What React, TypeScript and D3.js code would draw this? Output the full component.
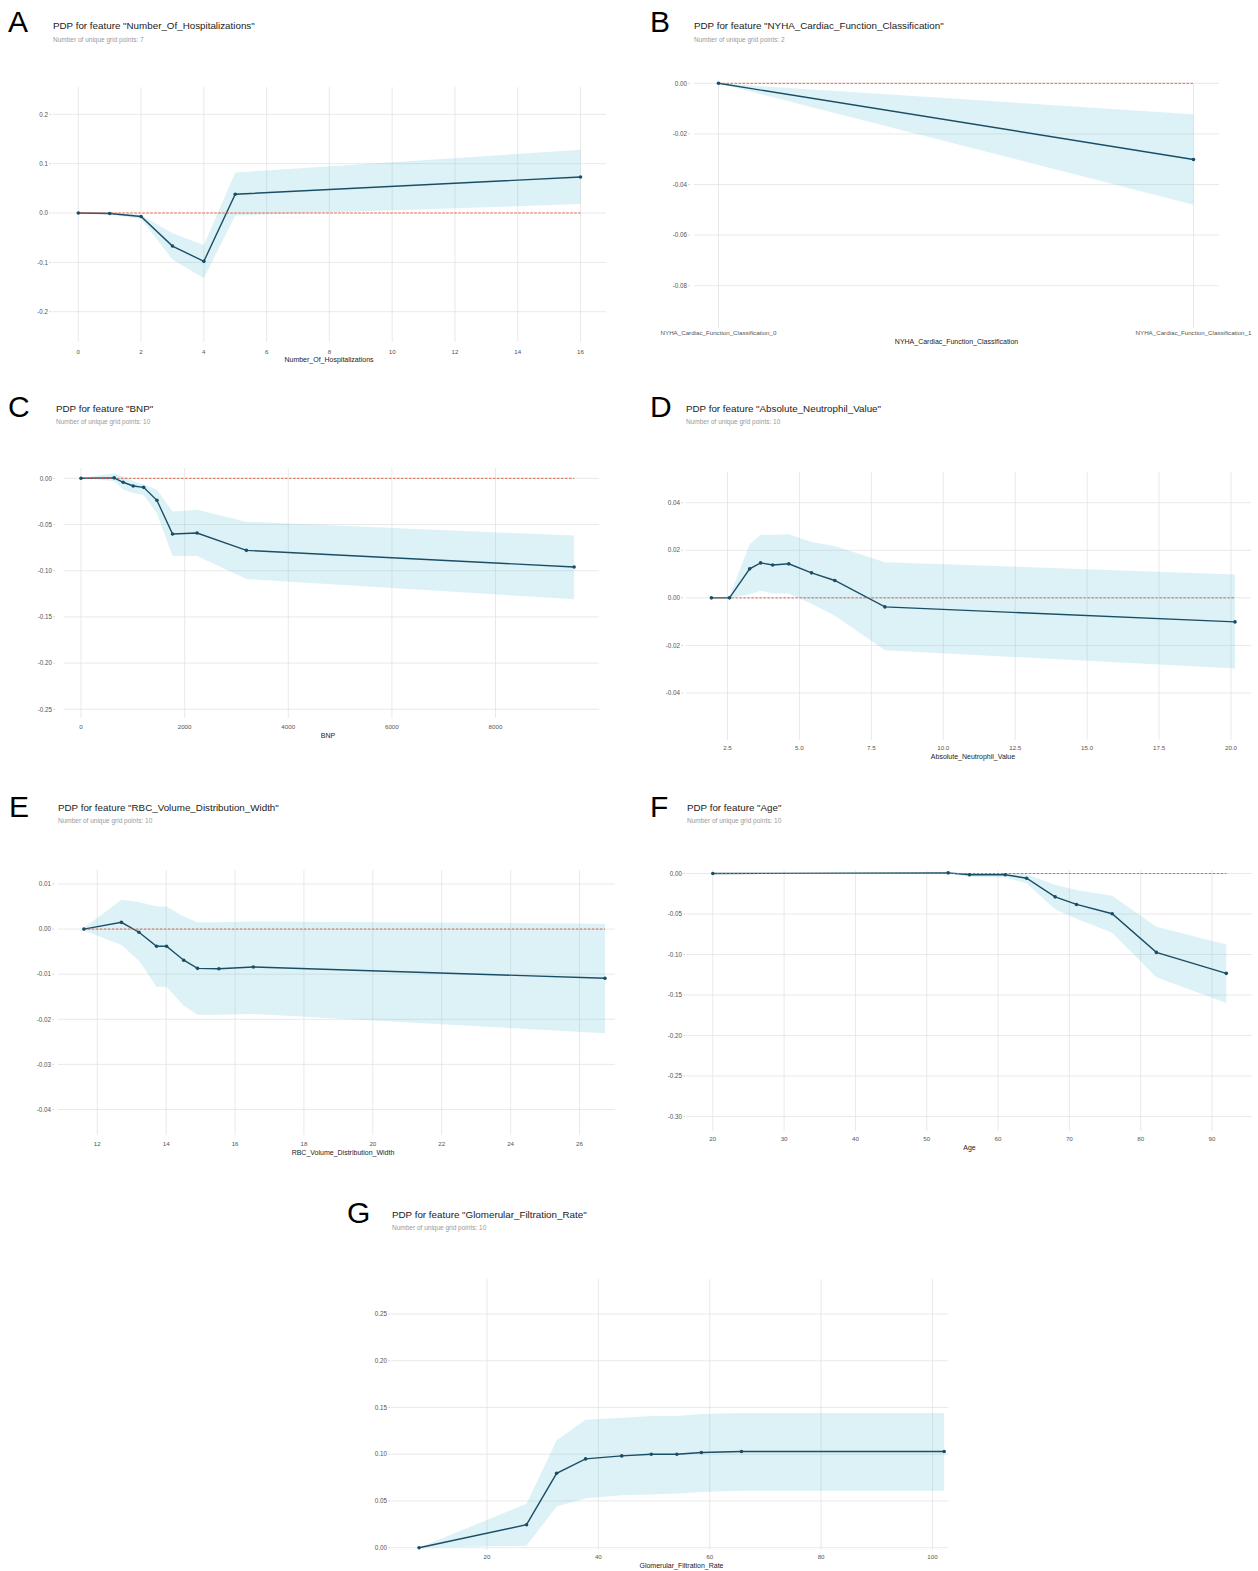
import React from 'react';
import * as d3 from 'd3';

// ---------------- Data ----------------
// A: Number_Of_Hospitalizations
const A_x = [0, 1, 2, 3, 4, 5, 16];
const A_pdp = [0, -0.001, -0.007, -0.067, -0.098, 0.038, 0.073];
const A_upper = [0, 0.001, -0.004, -0.041, -0.065, 0.082, 0.128];
const A_lower = [0, -0.003, -0.012, -0.094, -0.132, -0.005, 0.018];
const A_xTicks = [0, 2, 4, 6, 8, 10, 12, 14, 16];
const A_yTicks = [0.2, 0.1, 0.0, -0.1, -0.2];

// B: NYHA_Cardiac_Function_Classification
const B_x = [0, 1];
const B_pdp = [0, -0.0301];
const B_upper = [0, -0.0122];
const B_lower = [0, -0.048];
const B_cats = ['NYHA_Cardiac_Function_Classification_0', 'NYHA_Cardiac_Function_Classification_1'];
const B_yTicks = [0.0, -0.02, -0.04, -0.06, -0.08];

// C: BNP
const C_x = [0, 640, 814, 1008, 1209, 1465, 1767, 2240, 3193, 9517];
const C_pdp = [0, 0.0005, -0.0043, -0.0083, -0.0098, -0.0238, -0.0603, -0.0592, -0.078, -0.096];
const C_upper = [0, 0.0054, 0.002, -0.003, -0.007, -0.012, -0.036, -0.034, -0.047, -0.062];
const C_lower = [0, -0.003, -0.012, -0.016, -0.018, -0.038, -0.084, -0.084, -0.109, -0.131];
const C_xTicks = [0, 2000, 4000, 6000, 8000];
const C_yTicks = [0.0, -0.05, -0.1, -0.15, -0.2, -0.25];

// D: Absolute_Neutrophil_Value
const D_x = [1.94, 2.57, 3.27, 3.65, 4.07, 4.63, 5.42, 6.23, 7.97, 20.14];
const D_pdp = [0, 0, 0.0122, 0.0147, 0.0138, 0.0143, 0.0105, 0.0073, -0.0038, -0.0101];
const D_upper = [0, 0.0007, 0.0225, 0.0265, 0.0265, 0.0267, 0.0235, 0.0218, 0.015, 0.0098];
const D_lower = [0, -0.0001, 0.0015, 0.003, 0.0018, 0.0018, -0.0025, -0.0075, -0.022, -0.0297];
const D_xTicks = [2.5, 5.0, 7.5, 10.0, 12.5, 15.0, 17.5, 20.0];
const D_yTicks = [0.04, 0.02, 0.0, -0.02, -0.04];

// E: RBC_Volume_Distribution_Width
const E_x = [11.61, 12.7, 13.21, 13.72, 14.01, 14.51, 14.91, 15.53, 16.53, 26.74];
const E_pdp = [0, 0.0015, -0.0007, -0.0038, -0.0038, -0.0069, -0.0087, -0.0088, -0.0084, -0.0109];
const E_upper = [0.0003, 0.0065, 0.006, 0.005, 0.005, 0.0028, 0.0015, 0.0015, 0.0017, 0.0012];
const E_lower = [-0.0003, -0.0035, -0.007, -0.0128, -0.0128, -0.017, -0.019, -0.019, -0.0188, -0.0231];
const E_xTicks = [12, 14, 16, 18, 20, 22, 24, 26];
const E_yTicks = [0.01, 0.0, -0.01, -0.02, -0.03, -0.04];

// F: Age
const F_x = [20, 53, 56, 61, 64, 68, 71, 76, 82.2, 92];
const F_pdp = [0, 0.0008, -0.0016, -0.0016, -0.0058, -0.0288, -0.0382, -0.0497, -0.0974, -0.1233];
const F_upper = [0, 0.0015, 0.0004, 0.0004, -0.001, -0.014, -0.0205, -0.0275, -0.0657, -0.0875];
const F_lower = [0, -0.0005, -0.004, -0.005, -0.012, -0.044, -0.056, -0.073, -0.128, -0.16];
const F_xTicks = [20, 30, 40, 50, 60, 70, 80, 90];
const F_yTicks = [0.0, -0.05, -0.1, -0.15, -0.2, -0.25, -0.3];

// G: Glomerular_Filtration_Rate
const G_x = [7.8, 27.1, 32.5, 37.7, 44.2, 49.5, 54.1, 58.5, 65.7, 102.1];
const G_pdp = [0, 0.0246, 0.0796, 0.095, 0.0982, 0.1, 0.1, 0.1018, 0.1029, 0.1029];
const G_upper = [0, 0.047, 0.115, 0.137, 0.139, 0.141, 0.141, 0.143, 0.144, 0.144];
const G_lower = [0, 0.002, 0.044, 0.053, 0.056, 0.057, 0.058, 0.0595, 0.061, 0.061];
const G_xTicks = [20, 40, 60, 80, 100];
const G_yTicks = [0.25, 0.2, 0.15, 0.1, 0.05, 0.0];

// ---------------- Style ----------------
const FONT = '"Liberation Sans", Arial, Helvetica, sans-serif';
const LINE_COLOR = '#1A4E66';
const FILL_COLOR = '#66C2D7';
const ZERO_COLOR = '#E75438';
const GRID_COLOR = '#e3e3e3';

type Panel = {
  letter: string;
  feature: string;
  nPoints: number;
  xs: number[];
  pdp: number[];
  upper: number[];
  lower: number[];
  xTicks: number[];
  xTickLabels?: string[];
  xFmt: (v: number) => string;
  yTicks: number[];
  yFmt: (v: number) => string;
  zeroLine: boolean;
  // layout
  letterX: number; letterY: number;
  titleX: number; titleY: number; subY: number;
  xAnchor: [number, number]; xPix: [number, number];
  yAnchor: [number, number]; yPix: [number, number];
  gridL: number; gridR: number; gridT: number; gridB: number;
  yLabelR: number;
  xTickY: number; axisLabelY: number; axisLabelX: number;
};

const f1 = d3.format('.1f');
const f2 = d3.format('.2f');
const f0 = d3.format('d');
const minus = (f: (v: number) => string) => (v: number) => (Math.abs(v) < 1e-9 ? f(0) : f(v)).replace('−', '-');

const panels: Panel[] = [
  {
    letter: 'A', feature: 'Number_Of_Hospitalizations', nPoints: 7,
    xs: A_x, pdp: A_pdp, upper: A_upper, lower: A_lower,
    xTicks: A_xTicks, xFmt: f0, yTicks: A_yTicks, yFmt: minus(f1), zeroLine: true,
    letterX: 8, letterY: 32, titleX: 53, titleY: 29, subY: 41.5,
    xAnchor: [0, 16], xPix: [78.3, 580.5], yAnchor: [0.2, -0.2], yPix: [114.3, 311.7],
    gridL: 52, gridR: 606, gridT: 87, gridB: 342, yLabelR: 48,
    xTickY: 353.5, axisLabelY: 362, axisLabelX: 329,
  },
  {
    letter: 'B', feature: 'NYHA_Cardiac_Function_Classification', nPoints: 2,
    xs: B_x, pdp: B_pdp, upper: B_upper, lower: B_lower,
    xTicks: B_x, xTickLabels: B_cats, xFmt: f0, yTicks: B_yTicks, yFmt: minus(f2), zeroLine: true,
    letterX: 650, letterY: 32, titleX: 694, titleY: 29, subY: 41.5,
    xAnchor: [0, 1], xPix: [718.5, 1193.5], yAnchor: [0, -0.08], yPix: [83.3, 285.7],
    gridL: 694, gridR: 1219, gridT: 83, gridB: 328, yLabelR: 687,
    xTickY: 334.5, axisLabelY: 343.5, axisLabelX: 956.5,
  },
  {
    letter: 'C', feature: 'BNP', nPoints: 10,
    xs: C_x, pdp: C_pdp, upper: C_upper, lower: C_lower,
    xTicks: C_xTicks, xFmt: f0, yTicks: C_yTicks, yFmt: minus(f2), zeroLine: true,
    letterX: 8, letterY: 417, titleX: 56, titleY: 411.5, subY: 424,
    xAnchor: [0, 8000], xPix: [81, 495.5], yAnchor: [0, -0.25], yPix: [478.3, 709.3],
    gridL: 64, gridR: 599, gridT: 468, gridB: 718, yLabelR: 52,
    xTickY: 728.5, axisLabelY: 737.5, axisLabelX: 328,
  },
  {
    letter: 'D', feature: 'Absolute_Neutrophil_Value', nPoints: 10,
    xs: D_x, pdp: D_pdp, upper: D_upper, lower: D_lower,
    xTicks: D_xTicks, xFmt: f1, yTicks: D_yTicks, yFmt: minus(f2), zeroLine: true,
    letterX: 650, letterY: 417, titleX: 686, titleY: 411.5, subY: 424,
    xAnchor: [2.5, 20], xPix: [727.5, 1231], yAnchor: [0.04, -0.04], yPix: [502.7, 693],
    gridL: 686, gridR: 1251, gridT: 472, gridB: 740, yLabelR: 680,
    xTickY: 749.5, axisLabelY: 759, axisLabelX: 973,
  },
  {
    letter: 'E', feature: 'RBC_Volume_Distribution_Width', nPoints: 10,
    xs: E_x, pdp: E_pdp, upper: E_upper, lower: E_lower,
    xTicks: E_xTicks, xFmt: f0, yTicks: E_yTicks, yFmt: minus(f2), zeroLine: true,
    letterX: 9, letterY: 817, titleX: 58, titleY: 810.5, subY: 823,
    xAnchor: [12, 26], xPix: [97.3, 579.5], yAnchor: [0.01, -0.04], yPix: [884, 1109.5],
    gridL: 58, gridR: 615, gridT: 870, gridB: 1135, yLabelR: 51,
    xTickY: 1145.5, axisLabelY: 1154.5, axisLabelX: 343,
  },
  {
    letter: 'F', feature: 'Age', nPoints: 10,
    xs: F_x, pdp: F_pdp, upper: F_upper, lower: F_lower,
    xTicks: F_xTicks, xFmt: f0, yTicks: F_yTicks, yFmt: minus(f2), zeroLine: true,
    letterX: 650, letterY: 817, titleX: 687, titleY: 810.5, subY: 823,
    xAnchor: [20, 90], xPix: [712.8, 1212], yAnchor: [0, -0.3], yPix: [873.5, 1116.5],
    gridL: 686, gridR: 1252, gridT: 870, gridB: 1131, yLabelR: 682,
    xTickY: 1140.5, axisLabelY: 1149.5, axisLabelX: 969.5,
  },
  {
    letter: 'G', feature: 'Glomerular_Filtration_Rate', nPoints: 10,
    xs: G_x, pdp: G_pdp, upper: G_upper, lower: G_lower,
    xTicks: G_xTicks, xFmt: f0, yTicks: G_yTicks, yFmt: minus(f2), zeroLine: false,
    letterX: 347, letterY: 1222.5, titleX: 392, titleY: 1217.5, subY: 1230,
    xAnchor: [20, 100], xPix: [487, 932.5], yAnchor: [0.25, 0], yPix: [1314, 1547.7],
    gridL: 391, gridR: 948, gridT: 1279, gridB: 1550, yLabelR: 387,
    xTickY: 1558.5, axisLabelY: 1567.5, axisLabelX: 681.5,
  },
];

type Pt = { x: number; y: number; u: number; l: number };

function PDPPanel({ p }: { p: Panel }) {
  const x = d3.scaleLinear().domain(p.xAnchor).range(p.xPix);
  const y = d3.scaleLinear().domain(p.yAnchor).range(p.yPix);
  const pts: Pt[] = p.xs.map((v, i) => ({ x: v, y: p.pdp[i], u: p.upper[i], l: p.lower[i] }));
  const area = d3.area<Pt>().x((d) => x(d.x)).y0((d) => y(d.l)).y1((d) => y(d.u));
  const line = d3.line<Pt>().x((d) => x(d.x)).y((d) => y(d.y));
  const xMin = d3.min(p.xs) as number;
  const xMax = d3.max(p.xs) as number;

  return (
    <g>
      <text x={p.letterX} y={p.letterY} fontFamily={FONT} fontSize={30} fill="#000">{p.letter}</text>
      <text x={p.titleX} y={p.titleY} fontFamily={FONT} fontSize={9.8} fill="#222">
        {`PDP for feature "${p.feature}"`}
      </text>
      <text x={p.titleX} y={p.subY} fontFamily={FONT} fontSize={6.5} fill="#9a9a9a">
        {`Number of unique grid points: ${p.nPoints}`}
      </text>

      {/* grid */}
      {p.yTicks.map((t) => (
        <line key={'h' + t} x1={p.gridL} x2={p.gridR} y1={y(t)} y2={y(t)} stroke={GRID_COLOR} strokeWidth={0.8} />
      ))}
      {p.xTicks.map((t) => (
        <line key={'v' + t} x1={x(t)} x2={x(t)} y1={p.gridT} y2={p.gridB} stroke={GRID_COLOR} strokeWidth={0.8} />
      ))}

      {/* band */}
      <path d={area(pts) as string} fill={FILL_COLOR} fillOpacity={0.22} stroke="none" />

      {/* pdp line */}
      <path d={line(pts) as string} fill="none" stroke={LINE_COLOR} strokeWidth={1.4} />

      {/* zero line */}
      {p.zeroLine && (
        <line x1={x(xMin)} x2={x(xMax)} y1={y(0)} y2={y(0)} stroke={ZERO_COLOR} strokeWidth={0.9} strokeDasharray="2.5,1.5" />
      )}

      {pts.map((d, i) => (
        <circle key={'m' + i} cx={x(d.x)} cy={y(d.y)} r={1.8} fill={LINE_COLOR} />
      ))}

      {/* y tick labels */}
      {p.yTicks.map((t) => (
        <g key={'yl' + t}>
          <text x={p.yLabelR} y={y(t) + 2.2} textAnchor="end" fontFamily={FONT} fontSize={6.3} fill="#555">
            {p.yFmt(t)}
          </text>
          <line x1={p.yLabelR + 1.5} x2={p.yLabelR + 3} y1={y(t)} y2={y(t)} stroke="#aaa" strokeWidth={0.6} />
        </g>
      ))}

      {/* x tick labels */}
      {p.xTicks.map((t, i) => (
        <text key={'xl' + t} x={x(t)} y={p.xTickY} textAnchor="middle" fontFamily={FONT} fontSize={6.2} fill="#555">
          {p.xTickLabels ? p.xTickLabels[i] : p.xFmt(t)}
        </text>
      ))}

      <text x={p.axisLabelX} y={p.axisLabelY} textAnchor="middle" fontFamily={FONT} fontSize={7} fill="#222">
        {p.feature}
      </text>
    </g>
  );
}

export default function App() {
  return (
    <svg
      width={1258}
      height={1571}
      viewBox="0 0 1258 1571"
      style={{ position: 'absolute', left: 0, top: 0, background: '#fff' }}
    >
      <rect x={0} y={0} width={1258} height={1571} fill="#fff" />
      {panels.map((p) => (
        <PDPPanel key={p.letter} p={p} />
      ))}
    </svg>
  );
}
